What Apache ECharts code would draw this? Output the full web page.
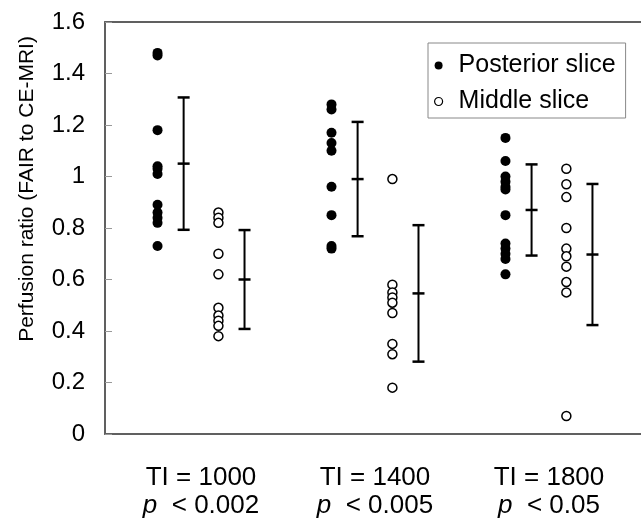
<!DOCTYPE html>
<html>
<head>
<meta charset="utf-8">
<script src="https://cdn.jsdelivr.net/npm/echarts@6/dist/echarts.min.js"></script>
<style>
  html, body { margin: 0; padding: 0; background: #fff; overflow: hidden; }
  #chart { width: 641px; height: 521px; }
</style>
</head>
<body>
<div id="chart"></div>
<script>
const FONT = '"Liberation Sans", Arial, sans-serif'

// 分组
const groupPos = [1, 2, 3]
const groupLabels = ['TI = 1000', 'TI = 1400', 'TI = 1800']
const pLabels = ['< 0.002', '< 0.005', '< 0.05']

// Posterior slice
const posterior1000 = [1.48, 1.47, 1.18, 1.04, 1.03, 1.01, 0.89, 0.86, 0.84, 0.82, 0.73]
const posterior1400 = [1.28, 1.26, 1.17, 1.13, 1.10, 0.96, 0.85, 0.73, 0.72]
const posterior1800 = [1.15, 1.06, 1.00, 0.98, 0.96, 0.95, 0.85, 0.74, 0.72, 0.70, 0.68, 0.62]
const posteriorMean = [1.05, 0.99, 0.87]
const posteriorSD = [0.257, 0.222, 0.177]

// Middle slice
const middle1000 = [0.86, 0.84, 0.82, 0.70, 0.62, 0.49, 0.46, 0.44, 0.42, 0.38]
const middle1400 = [0.99, 0.58, 0.55, 0.53, 0.51, 0.47, 0.35, 0.31, 0.18]
const middle1800 = [1.03, 0.97, 0.92, 0.80, 0.72, 0.69, 0.65, 0.59, 0.55, 0.07]
const middleMean = [0.60, 0.546, 0.697]
const middleSD = [0.192, 0.265, 0.274]

const yTicks = [0, 0.2, 0.4, 0.6, 0.8, 1, 1.2, 1.4, 1.6]

// 偏移
const dotOffset = { posterior: -0.25, middle: 0.1 }
const barOffset = { posterior: -0.1, middle: 0.25 }

const X_MIN = 0.448
const X_MAX = 3.598
const frameLine = { show: true, onZero: false, lineStyle: { color: '#606060', width: 2 } }

const toPoints = (groups, offset) => {
  const pts = []
  groups.forEach((vals, i) => {
    vals.forEach((v) => pts.push([groupPos[i] + offset, v]))
  })
  return pts
}

const toBars = (means, sds, offset) =>
  means.map((m, i) => [groupPos[i] + offset, m, m - sds[i], m + sds[i]])

const renderErrorBar = (params, api) => {
  const x = api.value(0)
  const mid = api.coord([x, api.value(1)])
  const low = api.coord([x, api.value(2)])
  const high = api.coord([x, api.value(3)])
  const half = 6
  const style = { stroke: '#000', lineWidth: 2 }
  const cap = (p) => ({
    type: 'line',
    shape: { x1: p[0] - half, y1: p[1], x2: p[0] + half, y2: p[1] },
    style: { ...style, lineWidth: 2.5 }
  })
  return {
    type: 'group',
    children: [
      { type: 'line', shape: { x1: low[0], y1: low[1], x2: high[0], y2: high[1] }, style },
      cap(high),
      cap(mid),
      cap(low)
    ]
  }
}

const chart = echarts.init(document.getElementById('chart'))

const option = {
  backgroundColor: '#fff',
  animation: false,
  textStyle: { fontFamily: FONT, color: '#000' },
  grid: {
    left: 105,
    top: 22,
    right: -12,
    bottom: 87,
    outerBoundsMode: 'none'
  },
  legend: {
    orient: 'vertical',
    left: 428,
    top: 43,
    padding: [10, 10, 4, 6],
    itemGap: 11,
    itemWidth: 18,
    itemHeight: 8,
    borderColor: '#888',
    borderWidth: 1,
    textStyle: { fontFamily: FONT, fontSize: 25, color: '#000', padding: [0, 0, 0, 6] },
    data: [
      { name: 'Posterior slice', icon: 'circle', itemStyle: { color: '#000', borderWidth: 0 } },
      { name: 'Middle slice', icon: 'circle', itemStyle: { color: '#fff', borderColor: '#000', borderWidth: 1.2 } }
    ]
  },
  xAxis: [
    {
      type: 'value',
      min: X_MIN,
      max: X_MAX,
      splitLine: { show: false },
      axisLine: frameLine,
      axisTick: { show: false },
      axisLabel: {
        customValues: groupPos,
        margin: 30,
        formatter: (v) => {
          const i = groupPos.indexOf(v)
          return `{a|${groupLabels[i]}}\n{p|p}{a|  ${pLabels[i]}}`
        },
        rich: {
          a: { fontFamily: FONT, fontSize: 26, color: '#000', lineHeight: 28 },
          p: { fontFamily: FONT, fontSize: 26, color: '#000', fontStyle: 'italic', lineHeight: 28 }
        }
      }
    },
    {
      // 顶部边框
      type: 'value',
      position: 'top',
      min: X_MIN,
      max: X_MAX,
      splitLine: { show: false },
      axisLine: frameLine,
      axisTick: { show: false },
      axisLabel: { show: false }
    }
  ],
  yAxis: {
    type: 'value',
    min: 0,
    max: 1.6,
    interval: 0.2,
    splitLine: { show: false },
    axisLine: frameLine,
    axisTick: { show: true, inside: true, length: 7, lineStyle: { color: '#999', width: 1 } },
    axisLabel: {
      customValues: yTicks,
      margin: 20,
      fontFamily: FONT,
      fontSize: 24,
      color: '#000'
    }
  },
  graphic: [
    {
      type: 'text',
      x: 27,
      y: 189,
      rotation: Math.PI / 2,
      style: {
        text: 'Perfusion ratio (FAIR to CE-MRI)',
        fontFamily: FONT,
        fontSize: 21,
        fill: '#000',
        align: 'center',
        verticalAlign: 'middle'
      }
    }
  ],
  series: [
    {
      name: 'Posterior slice',
      type: 'scatter',
      symbol: 'circle',
      symbolSize: 10,
      itemStyle: { color: '#000', opacity: 1 },
      data: toPoints([posterior1000, posterior1400, posterior1800], dotOffset.posterior)
    },
    {
      name: 'Middle slice',
      type: 'scatter',
      symbol: 'circle',
      symbolSize: 9,
      itemStyle: { color: '#fff', borderColor: '#000', borderWidth: 1.5, opacity: 1 },
      data: toPoints([middle1000, middle1400, middle1800], dotOffset.middle)
    },
    {
      name: 'posteriorSD',
      type: 'custom',
      renderItem: renderErrorBar,
      encode: { x: 0, y: [1, 2, 3] },
      data: toBars(posteriorMean, posteriorSD, barOffset.posterior),
      z: 3
    },
    {
      name: 'middleSD',
      type: 'custom',
      renderItem: renderErrorBar,
      encode: { x: 0, y: [1, 2, 3] },
      data: toBars(middleMean, middleSD, barOffset.middle),
      z: 3
    }
  ]
}

chart.setOption(option)
</script>
</body>
</html>
